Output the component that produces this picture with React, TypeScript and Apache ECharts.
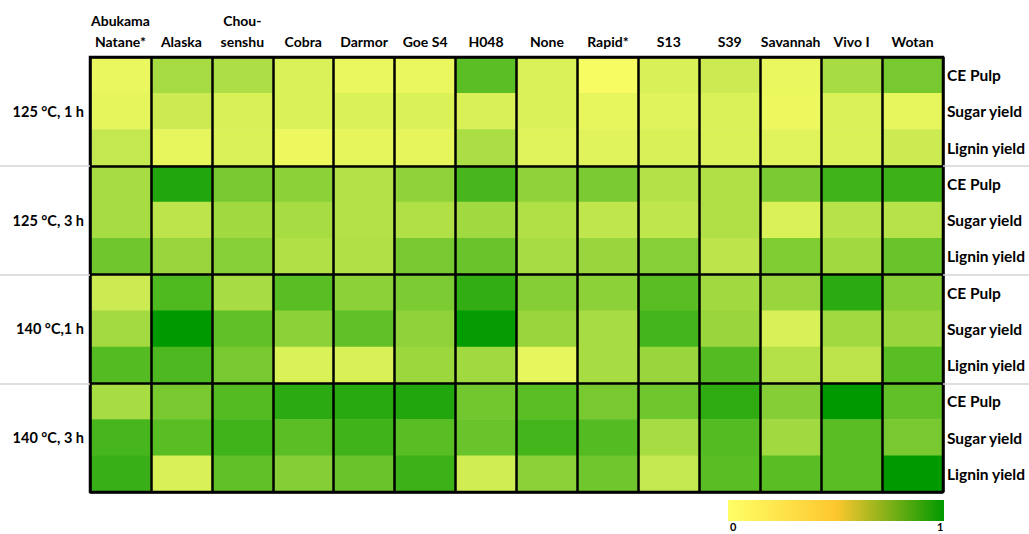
import React, { useEffect, useRef } from "react";
import * as echarts from "echarts";

// Cultivars along the top, pretreatment conditions on the left, measures on the right
const cultivars = [
  "Abukama\nNatane*", "Alaska", "Chou-\nsenshu", "Cobra", "Darmor", "Goe S4", "H048",
  "None", "Rapid*", "S13", "S39", "Savannah", "Vivo I", "Wotan",
];
const conditions = ["125 °C, 1 h", "125 °C, 3 h", "140 °C,1 h", "140 °C, 3 h"];
const measures = ["CE Pulp", "Sugar yield", "Lignin yield"];

// Normalised scores (0–1), one value per cultivar
const ce125_1h = [0.08, 0.35, 0.32, 0.14, 0.08, 0.08, 0.64, 0.14, 0.03, 0.15, 0.2, 0.08, 0.34, 0.53];
const sugar125_1h = [0.1, 0.2, 0.15, 0.14, 0.14, 0.14, 0.15, 0.14, 0.09, 0.12, 0.14, 0.07, 0.14, 0.09];
const lignin125_1h = [0.23, 0.09, 0.14, 0.07, 0.1, 0.1, 0.33, 0.12, 0.12, 0.15, 0.14, 0.12, 0.14, 0.2];

const ce125_3h = [0.34, 0.87, 0.53, 0.45, 0.29, 0.44, 0.72, 0.44, 0.52, 0.29, 0.31, 0.52, 0.75, 0.76];
const sugar125_3h = [0.34, 0.26, 0.37, 0.34, 0.29, 0.31, 0.37, 0.31, 0.25, 0.25, 0.31, 0.14, 0.28, 0.28];
const lignin125_3h = [0.56, 0.4, 0.47, 0.31, 0.31, 0.53, 0.59, 0.34, 0.4, 0.47, 0.26, 0.5, 0.37, 0.59];

const ce140_1h = [0.2, 0.69, 0.34, 0.65, 0.45, 0.51, 0.8, 0.48, 0.45, 0.65, 0.37, 0.4, 0.83, 0.48];
const sugar140_1h = [0.36, 1.0, 0.62, 0.45, 0.62, 0.44, 0.98, 0.4, 0.34, 0.73, 0.4, 0.15, 0.37, 0.4];
const lignin140_1h = [0.67, 0.7, 0.53, 0.14, 0.15, 0.39, 0.37, 0.09, 0.34, 0.4, 0.67, 0.29, 0.26, 0.65];

const ce140_3h = [0.34, 0.53, 0.67, 0.83, 0.84, 0.87, 0.55, 0.64, 0.53, 0.56, 0.81, 0.48, 1.0, 0.62];
const sugar140_3h = [0.72, 0.65, 0.75, 0.64, 0.75, 0.65, 0.59, 0.73, 0.67, 0.34, 0.67, 0.37, 0.65, 0.53];
const lignin140_3h = [0.78, 0.15, 0.62, 0.48, 0.59, 0.76, 0.18, 0.45, 0.56, 0.23, 0.65, 0.65, 0.65, 1.0];

const groups = [
  [ce125_1h, sugar125_1h, lignin125_1h],
  [ce125_3h, sugar125_3h, lignin125_3h],
  [ce140_1h, sugar140_1h, lignin140_1h],
  [ce140_3h, sugar140_3h, lignin140_3h],
];

const FONT = "Lato";

export default function App() {
  const ref = useRef<HTMLDivElement>(null);

  useEffect(() => {
    if (!ref.current) return;
    const chart = echarts.init(ref.current, undefined, { renderer: "svg" });

    const rowKeys = conditions.flatMap((c) => measures.map((m) => `${c}|${m}`));
    const cells: [number, number, number][] = [];
    groups.forEach((rows, g) =>
      rows.forEach((vals, m) =>
        vals.forEach((v, c) => cells.push([c, g * 3 + m, v]))
      )
    );

    const labelStyle = { fontFamily: FONT, fontWeight: "bold" as const, fontSize: 14, color: "#000" };
    const greyTicks = {
      type: "value" as const,
      min: 0,
      max: 4,
      inverse: true,
      z: 10,
      axisLine: { show: false },
      axisLabel: { show: false },
      splitLine: { show: false },
    };

    chart.setOption({
      animation: false,
      backgroundColor: "#fff",
      grid: {
        left: 90,
        right: 86,
        top: 57,
        bottom: 42,
        show: true,
        z: 10,
        borderColor: "#000",
        borderWidth: 2.5,
        backgroundColor: "transparent",
      },
      xAxis: {
        type: "category",
        position: "top",
        data: cultivars,
        z: 10,
        axisLine: { show: false },
        axisTick: { show: false },
        axisLabel: { ...labelStyle, interval: 0, margin: 5, lineHeight: 21 },
        splitLine: { show: true, lineStyle: { color: "#000", width: 2.5 } },
      },
      yAxis: [
        {
          type: "category",
          position: "right",
          data: rowKeys,
          inverse: true,
          z: 10,
          axisLine: { show: false },
          axisTick: { show: false },
          splitLine: { show: false },
          axisLabel: {
            ...labelStyle,
            fontSize: 15.5,
            interval: 0,
            margin: 4,
            formatter: (v: string) => v.split("|")[1],
          },
        },
        {
          type: "category",
          position: "left",
          data: conditions,
          inverse: true,
          z: 10,
          axisLine: { show: false },
          axisTick: { show: false },
          splitLine: { show: true, lineStyle: { color: "#000", width: 2.5 } },
          axisLabel: { ...labelStyle, fontSize: 14.5, margin: 6 },
        },
        {
          ...greyTicks,
          position: "left",
          axisTick: {
            show: true,
            length: 90,
            customValues: [1, 2, 3],
            lineStyle: { color: "#d4d4d4", width: 1.5 },
          },
        },
        {
          ...greyTicks,
          position: "right",
          axisTick: {
            show: true,
            length: 86,
            customValues: [1, 2, 3],
            lineStyle: { color: "#d4d4d4", width: 1.5 },
          },
        },
      ],
      visualMap: {
        type: "continuous",
        show: false,
        min: 0,
        max: 1,
        seriesIndex: 0,
        inRange: { color: ["#ffff66", "#009900"] },
      },
      series: [
        {
          type: "heatmap",
          xAxisIndex: 0,
          yAxisIndex: 0,
          data: cells,
          itemStyle: { borderWidth: 0 },
          emphasis: { disabled: true },
          z: 1,
        },
      ],
      graphic: [
        {
          type: "rect",
          left: 728,
          top: 500,
          shape: { width: 216, height: 21 },
          style: {
            fill: new echarts.graphic.LinearGradient(0, 0, 1, 0, [
              { offset: 0, color: "#ffff66" },
              { offset: 0.5, color: "#fdc72e" },
              { offset: 1, color: "#009900" },
            ]),
          },
        },
        {
          type: "text",
          x: 730,
          y: 521,
          style: { text: "0", fontFamily: FONT, fontWeight: "bold", fontSize: 11, fill: "#000" },
        },
        {
          type: "text",
          x: 937,
          y: 521,
          style: { text: "1", fontFamily: FONT, fontWeight: "bold", fontSize: 11, fill: "#000" },
        },
      ],
    });

    return () => chart.dispose();
  }, []);

  return (
    <div
      ref={ref}
      style={{ position: "absolute", left: 0, top: 0, width: 1029, height: 534 }}
    />
  );
}
